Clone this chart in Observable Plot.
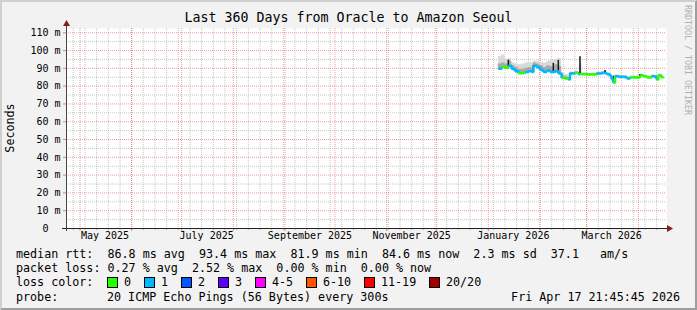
<!DOCTYPE html>
<html><head><meta charset="utf-8">
<script src="https://cdn.jsdelivr.net/npm/d3@7"></script>
<script src="https://cdn.jsdelivr.net/npm/@observablehq/plot@0.6"></script>
<style>
html,body{margin:0;padding:0;background:#fff}
#chart{position:relative;width:697px;height:310px;background:#f2f2f2;overflow:hidden;font-family:"DejaVu Sans Mono",monospace;color:#000}
#chart svg{position:absolute;left:0;top:0}
#shade{position:absolute;left:0;top:0;width:693px;height:306px;border-top:2px solid #cfcfcf;border-left:2px solid #cfcfcf;border-right:2px solid #9e9e9e;border-bottom:2px solid #9e9e9e;pointer-events:none}
.t{position:absolute;white-space:pre;line-height:14px;font-size:11.7px}
.sw{position:absolute;width:9px;height:9px;border:1px solid #000}
</style>
</head><body>
<div id="chart"><div id="shade"></div></div>
<script>
// ---- data ----
const rangeStart = "2025-04-22T21:45:45Z";
const rangeEnd = "2026-04-17T21:45:45Z";
const yTop = 112.4;
const yMajor = [10, 20, 30, 40, 50, 60, 70, 80, 90, 100, 110];
const yMinor = [5, 15, 25, 35, 45, 55, 65, 75, 85, 95, 105];
const yTickValues = [0, 10, 20, 30, 40, 50, 60, 70, 80, 90, 100, 110];
const yTickLabels = ["0\u00a0\u00a0", "10 m", "20 m", "30 m", "40 m", "50 m", "60 m", "70 m", "80 m", "90 m", "100 m", "110 m"];
const xLabelDates = ["2025-05-16", "2025-07-16", "2025-09-16", "2025-11-16", "2026-01-16", "2026-03-16"];
const xLabelTexts = ["May 2025", "July 2025", "September 2025", "November 2025", "January 2026", "March 2026"];

const pingDates = ["2026-01-07","2026-01-09","2026-01-11","2026-01-13","2026-01-15","2026-01-17","2026-01-19","2026-01-21","2026-01-23","2026-01-25","2026-01-27","2026-01-28","2026-01-30","2026-02-01","2026-02-03","2026-02-05","2026-02-07","2026-02-10","2026-02-12","2026-02-14","2026-02-16","2026-02-18","2026-02-19","2026-02-22","2026-02-24","2026-02-25","2026-02-26","2026-03-01","2026-03-04","2026-03-07","2026-03-10","2026-03-12","2026-03-13","2026-03-15","2026-03-16","2026-03-17","2026-03-18","2026-03-20","2026-03-23","2026-03-25","2026-03-27","2026-03-30","2026-04-02","2026-04-04","2026-04-06","2026-04-09","2026-04-11","2026-04-12","2026-04-13","2026-04-15","2026-04-16"];
const medianRtt = [89.8,90.7,90.4,91.5,89.7,88.4,87.3,87.4,87.9,88.4,88.0,91.5,90.6,89.1,87.9,88.8,87.9,88.4,87.1,84.6,84.3,83.7,87.1,87.4,86.7,86.7,86.7,86.5,86.6,87.1,87.4,87.3,86.7,85.6,83.7,81.9,85.6,85.2,85.2,84.3,84.9,84.9,86.0,85.6,84.9,85.6,85.2,83.7,86.0,84.9,84.6];
const lossCount = [1,0,0,1,1,1,0,0,1,1,1,1,1,1,1,1,1,1,1,0,0,1,1,0,1,0,0,0,0,1,1,1,1,1,1,0,1,1,1,1,0,0,0,0,0,1,1,0,0,0,0];
const smokeMax = [96.5,97.5,95.0,95.5,93.0,92.5,92.0,92.5,93.0,93.5,93.0,94.0,94.0,93.5,93.0,94.0,94.5,95.0,95.5,87.0,86.5,85.5,88.0,88.5,88.0,96.5,87.5,87.3,87.4,87.9,88.2,88.8,87.5,86.4,84.5,85.6,86.4,86.0,86.0,85.1,85.7,85.7,86.8,86.4,85.7,86.4,86.0,84.5,86.8,85.7,85.4];
const smokeUpper = [92.5,93.0,92.5,94.0,91.5,90.5,89.5,89.5,90.0,90.5,90.0,93.0,92.5,91.5,90.5,91.5,91.0,92.0,91.0,85.8,85.3,84.5,87.6,87.9,87.2,92.0,87.1,87.0,87.0,87.5,87.8,88.0,87.1,86.0,84.1,83.0,86.0,85.6,85.6,84.7,85.3,85.3,86.4,86.0,85.3,86.0,85.6,84.1,86.4,85.3,85.0];
const smokeMin = [89.2,90.0,89.8,90.5,89.0,87.8,86.8,86.8,87.3,87.8,87.4,90.8,90.0,88.5,87.3,88.2,87.3,87.8,86.5,84.0,83.8,83.2,86.6,86.9,86.2,86.2,86.2,86.0,86.1,86.6,86.9,86.8,86.2,85.1,83.2,81.5,85.1,84.7,84.7,83.8,84.4,84.4,85.5,85.1,84.4,85.1,84.7,83.2,85.5,84.4,84.1];
const spikeDates = ["2026-01-13","2026-01-28","2026-02-09","2026-02-12","2026-02-19","2026-02-25","2026-03-12","2026-03-17","2026-04-02","2026-04-12"];
const spikeLow = [89.5,88.0,88.0,87.5,83.7,86.7,87.3,81.9,85.0,83.7];
const spikeHigh = [94.6,91.5,92.8,94.5,87.1,96.5,88.8,85.6,86.5,85.6];

const lossLabels = ["0", "1", "2", "3", "4-5", "6-10", "11-19", "20/20"];
const lossColors = ["#26ff00", "#00b8ff", "#0059ff", "#5e00ff", "#ff00ff", "#ff5500", "#ff0000", "#a10000"];
const rttLine = "median rtt:  86.8 ms avg  93.4 ms max  81.9 ms min  84.6 ms now  2.3 ms sd  37.1   am/s";
const lossLine = "packet loss: 0.27 % avg  2.52 % max  0.00 % min  0.00 % now";
const probeText = "20 ICMP Echo Pings (56 Bytes) every 300s";
const stampText = "Fri Apr 17 21:45:45 2026";
const titleText = "Last 360 Days from Oracle to Amazon Seoul";

// ---- build ----
const t0 = new Date(rangeStart), t1 = new Date(rangeEnd);
const months = d3.utcMonth.range(d3.utcMonth.ceil(t0), t1);
const weeks = d3.utcSunday.range(d3.utcSunday.ceil(t0), t1);
const rows = pingDates.map((d, i) => ({date: new Date(d), med: medianRtt[i], loss: lossCount[i], max: smokeMax[i], up: smokeUpper[i], min: smokeMin[i]}));
const segs = rows.slice(0, -1).map((r, i) => ({x1: r.date, y1: r.med, x2: rows[i + 1].date, y2: rows[i + 1].med, c: lossColors[r.loss]}));
const spikes = spikeDates.map((d, i) => ({date: new Date(d), lo: spikeLow[i], hi: spikeHigh[i]}));
const labels = xLabelDates.map((d, i) => ({date: new Date(d), text: xLabelTexts[i]}));
const yl = yTickValues.map((v, i) => ({v, text: yTickLabels[i]}));

const minorStyle = {stroke: "#8f8f8f", strokeOpacity: 0.5, strokeDasharray: "1,1"};
const majorStyle = {stroke: "#de5048", strokeOpacity: 0.55, strokeDasharray: "1,1"};

const svg = Plot.plot({
  width: 697, height: 310,
  marginLeft: 66, marginRight: 31, marginTop: 28, marginBottom: 82,
  style: {background: "transparent", fontFamily: "DejaVu Sans Mono", fontSize: "10px", overflow: "visible"},
  x: {type: "utc", domain: [t0, t1], axis: null},
  y: {domain: [0, yTop], axis: null},
  marks: [
    Plot.frame({fill: "white", stroke: "none"}),
    Plot.ruleX(weeks, {x: d => d, ...minorStyle}),
    Plot.ruleY(yMinor, {y: d => d, ...minorStyle}),
    Plot.ruleX(months, {x: d => d, ...majorStyle}),
    Plot.ruleY(yMajor, {y: d => d, ...majorStyle}),
    Plot.ruleX(weeks, {x: d => d, y1: 0, y2: 0, insetBottom: -2, stroke: "#8f8f8f", strokeOpacity: 0.6}),
    Plot.ruleX(months, {x: d => d, y1: 0, y2: 0, insetBottom: -3, stroke: "#de5048", strokeOpacity: 0.7}),
    Plot.ruleY(yMajor, {y: d => d, x1: t0, x2: t0, insetLeft: -3, stroke: "#de5048", strokeOpacity: 0.7}),
    Plot.areaY(rows, {x: "date", y1: "min", y2: "max", curve: "step-after", fill: "#d9d9d9"}),
    Plot.areaY(rows, {x: "date", y1: "min", y2: "up", curve: "step-after", fill: "#a9a9a9"}),
    Plot.ruleX(spikes, {x: "date", y1: "lo", y2: "hi", stroke: "#1a1a1a", strokeWidth: 1.5}),
    Plot.link(segs, {x1: "x1", y1: "y1", x2: "x2", y2: "y2", stroke: "c", curve: "step-after", strokeWidth: 2.5}),
    Plot.ruleY([0], {y: d => d, stroke: "#222", insetLeft: -4, insetRight: -2}),
    Plot.ruleX([t0], {x: d => d, stroke: "#444", insetTop: -3, insetBottom: -3}),
    Plot.dot([t0], {x: d => d, y: () => yTop, symbol: "triangle", r: 2.6, fill: "#7f1f1f", stroke: "none", dy: -4.5}),
    Plot.dot([t1], {x: d => d, y: () => 0, symbol: "triangle", r: 2.6, rotate: 90, fill: "#7f1f1f", stroke: "none", dx: 2.5}),
    Plot.text(labels, {x: "date", text: "text", frameAnchor: "bottom", dy: 10, fontSize: 10, fill: "#000"}),
    Plot.text(yl, {y: "v", text: "text", frameAnchor: "left", dx: -6, textAnchor: "end", fontSize: 10, fill: "#000"})
  ]
});
const chart = document.getElementById("chart");
chart.insertBefore(svg, chart.firstChild);

function addText(txt, left, top, extra) {
  const el = document.createElement("div");
  el.className = "t";
  el.textContent = txt;
  el.style.left = left + "px";
  el.style.top = top + "px";
  if (extra) Object.assign(el.style, extra);
  chart.appendChild(el);
  return el;
}
// title
addText(titleText, 0, 10, {width: "697px", textAlign: "center", fontSize: "13.3px", lineHeight: "16px"});
// y axis title
addText("Seconds", -40, 121, {width: "100px", textAlign: "center", transform: "rotate(-90deg)"});
// watermark
addText("RRDTOOL / TOBI OETIKER", 628, 53, {width: "120px", textAlign: "center", fontSize: "8.3px", color: "#b0b0b0", transform: "rotate(90deg)"});
// legend
addText(rttLine, 16, 247);
addText(lossLine, 16, 261);
addText("loss color:", 16, 275);
let lx = 107;
lossLabels.forEach((lab, i) => {
  const sw = document.createElement("div");
  sw.className = "sw";
  sw.style.left = lx + "px";
  sw.style.top = "277px";
  sw.style.background = lossColors[i];
  chart.appendChild(sw);
  addText(lab, lx + 17, 275);
  lx += 30 + 7 * lab.length;
});
addText("probe:", 16, 290);
addText(probeText, 107, 290);
addText(stampText, 0, 290, {width: "680px", textAlign: "right"});
</script>
</body></html>
